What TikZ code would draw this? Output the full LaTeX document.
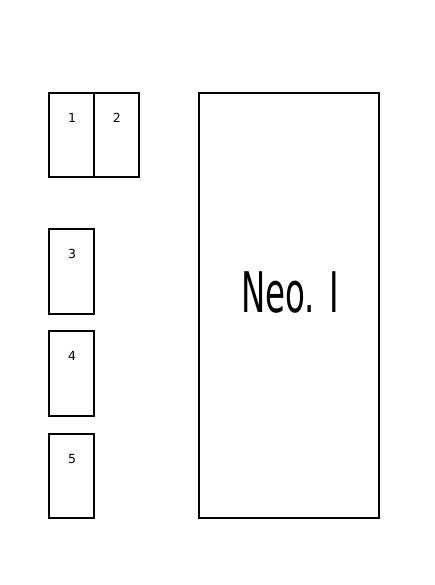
\documentclass[tikz,border=0pt]{standalone}
\usepackage{fontspec}
\setmainfont{DejaVu Sans}

\begin{document}
\begin{tikzpicture}[x=1pt,y=-1pt,
    cell/.style={draw, line width=2pt, minimum width=44.7pt, minimum height=84.5pt,
        inner sep=0pt},
    num/.style={anchor=center, yshift=-26pt, xshift=0.5pt, inner sep=0pt,
        font=\fontsize{12.5}{14}\selectfont}]

        \useasboundingbox (0,0) rectangle (434,585);

        \node [cell, label={[num]north:1}] (s1) at (71.65,135) {};
        \node [cell, label={[num]north:2}] (s2) at (116.35,135) {};
        \node [cell, label={[num]north:3}] (s3) at (71.65,271.5) {};
        \node [cell, label={[num]north:4}] (s4) at (71.65,373.6) {};
        \node [cell, label={[num]north:5}] (s5) at (71.65,475.8) {};

        \node [draw, line width=2pt, minimum width=180pt, minimum height=425pt,
            inner sep=0pt] (neo) at (289,305.5) {};
        \node [inner sep=0pt, xscale=0.58, font=\fontsize{56}{60}\selectfont]
            (neolabel) at (290,292.5) {Neo. I};

\end{tikzpicture}
\end{document}
